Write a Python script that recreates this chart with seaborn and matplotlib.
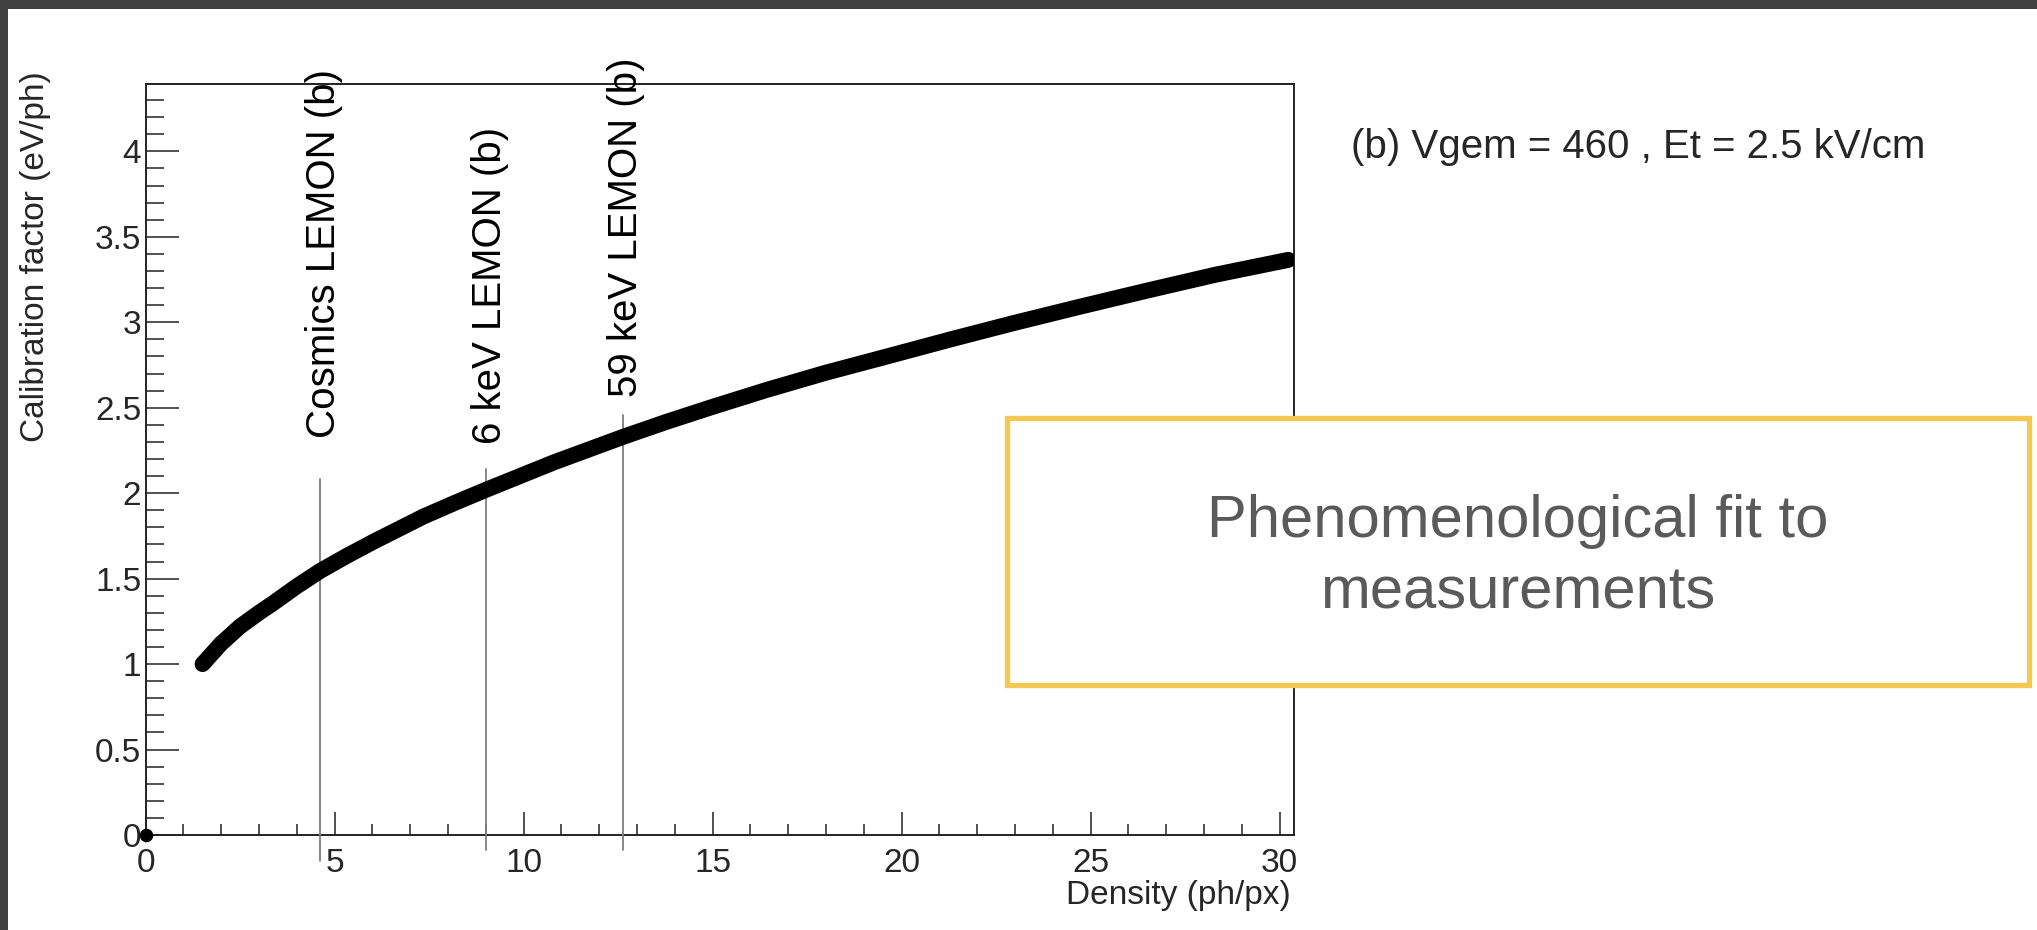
import matplotlib
matplotlib.use("Agg")
import matplotlib.pyplot as plt
from matplotlib.patches import Rectangle
from matplotlib.ticker import MultipleLocator
import numpy as np
import pandas as pd
import seaborn as sns

# ---------------- data ----------------
density = [1.51, 2.0, 2.5, 3.0, 3.38, 4.0, 4.62, 5.3, 6.03, 7.35, 8.2, 9.01,
           10.8, 12.64, 13.79, 15.0, 16.43, 18.0, 19.7, 21.3, 22.96, 24.7,
           26.49, 28.3, 30.23]
calib = [1.00, 1.12, 1.22, 1.30, 1.357, 1.455, 1.545, 1.63, 1.716, 1.863,
         1.945, 2.02, 2.18, 2.33, 2.418, 2.505, 2.604, 2.705, 2.805, 2.90,
         2.995, 3.09, 3.185, 3.278, 3.365]
origin_x = [0.0]
origin_y = [0.0]

marker_names = ["Cosmics LEMON (b)", "6 keV LEMON (b)", "59 keV LEMON (b)"]
marker_x = [4.62, 9.0, 12.62]
marker_line_top = [2.083, 2.14, 2.46]
marker_line_bottom = [-0.15, -0.09, -0.09]
marker_text_y = [2.32, 2.29, 2.56]

x_ticks = [0, 5, 10, 15, 20, 25, 30]
y_ticks = [0, 0.5, 1, 1.5, 2, 2.5, 3, 3.5, 4]
y_tick_labels = ["0", "0.5", "1", "1.5", "2", "2.5", "3", "3.5", "4"]

x_label = "Density (ph/px)"
y_label = "Calibration factor (eV/ph)"
condition_text = "(b) Vgem = 460 , Et = 2.5 kV/cm"
box_lines = ["Phenomenological fit to", "measurements"]

# ---------------- style ----------------
sns.set_theme(style="ticks")
plt.rcParams["font.family"] = ["Liberation Sans", "DejaVu Sans"]

W, H = 2037, 930
fig = plt.figure(figsize=(W / 100, H / 100), dpi=100)
fig.patch.set_facecolor("white")

ax = fig.add_axes([145.5 / W, 1 - 835 / H, (1294 - 145.5) / W, (835 - 84) / H])
ax.set_facecolor("white")

df = pd.DataFrame({"density": density, "calib": calib})
sns.lineplot(data=df, x="density", y="calib", ax=ax, color="black",
             linewidth=11.5, sort=True, solid_capstyle="round",
             solid_joinstyle="round", zorder=5)
odf = pd.DataFrame({"x": origin_x, "y": origin_y})
sns.scatterplot(data=odf, x="x", y="y", ax=ax, color="black", s=95,
                edgecolor="black", linewidth=0, zorder=6, clip_on=False)

for name, xv, top, bot, ty in zip(marker_names, marker_x, marker_line_top,
                                  marker_line_bottom, marker_text_y):
    ax.plot([xv, xv], [bot, top], color="#7f7f7f", linewidth=1.3,
            clip_on=False, zorder=4)
    ax.text(xv + 0.1, ty, name, rotation=90, ha="center", va="bottom",
            fontsize=29, color="black", clip_on=False, zorder=7)

ax.set_xlim(0, 30.38)
ax.set_ylim(0, 4.394)
ax.set_xticks(x_ticks)
ax.set_xticklabels([str(t) for t in x_ticks])
ax.set_yticks(y_ticks)
ax.set_yticklabels(y_tick_labels)
ax.xaxis.set_minor_locator(MultipleLocator(1))
ax.yaxis.set_minor_locator(MultipleLocator(0.1))
ax.set_xlabel("")
ax.set_ylabel("")

for sp in ax.spines.values():
    sp.set_visible(True)
    sp.set_color("#222222")
    sp.set_linewidth(1.4)

ax.tick_params(axis="x", which="major", direction="in", length=16.5, width=1.1,
               color="#222222", labelsize=24, pad=9, top=False)
ax.tick_params(axis="x", which="minor", direction="in", length=8, width=1.1,
               color="#222222", top=False)
ax.tick_params(axis="y", which="major", direction="in", length=23.5, width=1.1,
               color="#222222", labelsize=24, pad=3, right=False)
ax.tick_params(axis="y", which="minor", direction="in", length=13, width=1.1,
               color="#222222", right=False)

# axis titles (ROOT style: right-aligned at axis ends)
fig.text(1291 / W, 1 - 895 / H, x_label, ha="right", va="center", fontsize=24)
fig.text(36 / W, 1 - 71 / H, y_label, ha="center", va="top", rotation=90,
         fontsize=24)

# condition label
fig.text(1351 / W, 1 - 147 / H, condition_text, ha="left", va="center",
         fontsize=29)

# highlighted box
box = Rectangle((1007 / W, 1 - 685 / H), (2029 - 1007) / W, (685 - 418) / H,
                transform=fig.transFigure, facecolor="white",
                edgecolor="#F5C852", linewidth=3.8, zorder=10)
fig.patches.append(box)
fig.text(1518 / W, 1 - 537 / H, box_lines[0], ha="center", va="baseline",
         fontsize=43, color="#5a5a5a", zorder=11)
fig.text(1518 / W, 1 - 608 / H, box_lines[1], ha="center", va="baseline",
         fontsize=43, color="#5a5a5a", zorder=11)

# dark frame on the top and left edges of the screenshot
fig.patches.append(Rectangle((0, 1 - 9 / H), 1, 9 / H, transform=fig.transFigure,
                             facecolor="#404040", edgecolor="none", zorder=20))
fig.patches.append(Rectangle((0, 0), 8 / W, 1, transform=fig.transFigure,
                             facecolor="#404040", edgecolor="none", zorder=20))

fig.savefig("out.png", dpi=100)
